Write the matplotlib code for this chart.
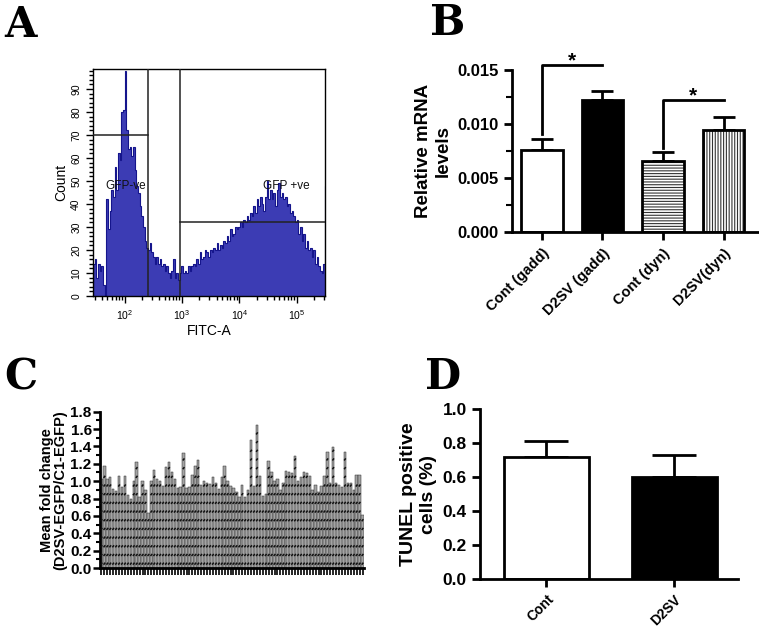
import numpy as np
import matplotlib
matplotlib.use("Agg")
import matplotlib.pyplot as plt
from matplotlib.collections import LineCollection
from matplotlib.ticker import MultipleLocator, FixedLocator, NullFormatter, LogLocator, FormatStrFormatter

plt.rcParams['font.family'] = ['Liberation Sans', 'DejaVu Sans']
plt.rcParams['hatch.linewidth'] = 0.8

# ---------------- Panel A data (flow cytometry histogram) ----------------
fitc_log_min = 1.447
fitc_log_max = 5.523
hist_counts = [14, 16, 8, 14, 11, 13, 5, 0, 42, 29, 37, 46, 43, 56, 46, 62, 59, 80, 81, 98,
               72, 64, 65, 61, 65, 55, 48, 45, 39, 35, 30, 24, 21, 20, 23, 19, 17, 14, 17, 14,
               16, 13, 14, 11, 13, 10, 8, 11, 16, 8, 10, 7, 10, 13, 10, 11, 10, 13, 11, 13,
               14, 13, 16, 14, 19, 16, 17, 20, 19, 17, 20, 19, 21, 20, 23, 20, 22, 21, 24, 23,
               26, 24, 29, 26, 27, 30, 29, 30, 32, 30, 33, 32, 35, 33, 36, 35, 39, 36, 42, 39,
               43, 40, 37, 43, 50, 42, 46, 42, 45, 39, 46, 49, 43, 45, 42, 43, 39, 40, 36, 37,
               35, 32, 33, 27, 30, 24, 27, 21, 24, 20, 21, 17, 20, 14, 17, 13, 11, 10, 14, 48]
gate_neg_x = 257
gate_neg_y = 70
gate_pos_x = 910
gate_pos_y = 32
a_xlim = (10 ** 1.447, 10 ** 5.494)
a_ylim = (0, 98.7)

# ---------------- Panel B data ----------------
b_categories = ['Cont (gadd)', 'D2SV (gadd)', 'Cont (dyn)', 'D2SV(dyn)']
b_values = [0.00759, 0.0122, 0.00658, 0.00944]
b_errors = [0.00099, 0.00086, 0.00080, 0.00123]

# ---------------- Panel C data ----------------
c_values = [1.02, 1.17, 1.02, 1.05, 0.91, 0.89, 1.06, 0.93, 1.06, 0.84, 0.80, 1.00, 1.22, 0.82,
            1.00, 0.90, 0.63, 1.00, 1.13, 1.03, 1.00, 0.95, 1.16, 1.22, 1.11, 1.03, 0.92, 0.93,
            1.32,
            0.92, 0.93, 1.07, 1.17, 1.24, 0.96, 1.00, 0.98, 0.97, 1.05, 0.98, 0.91, 1.05, 1.17,
            1.00, 0.94, 0.92, 0.88, 0.82, 0.96, 0.82, 0.90, 1.47, 0.95, 1.65, 1.06, 0.83, 0.85,
            1.23, 1.11, 1.00, 1.03,
            0.90, 0.98, 1.12, 1.10, 1.09, 1.29, 1.00, 1.05, 1.10, 1.09, 1.06, 0.90, 0.96, 0.88,
            0.95, 1.06, 1.34, 0.98, 1.39, 0.98, 0.96, 0.93, 1.34, 0.98, 0.98, 0.90, 1.07, 1.07,
            0.61]
c_dash_step = 0.1

# ---------------- Panel D data ----------------
d_categories = ['Cont', 'D2SV']
d_values = [0.717, 0.603]
d_errors = [0.096, 0.128]

W, H = 759, 628
fig = plt.figure(figsize=(W / 100, H / 100), dpi=100)


def px_axes(left, top, right, bottom):
    return fig.add_axes([left / W, 1 - bottom / H, (right - left) / W, (bottom - top) / H])


# ================= Panel A =================
axA = px_axes(93, 69, 325, 296)
edges = np.logspace(fitc_log_min, fitc_log_max, len(hist_counts) + 1)
axA.stairs(hist_counts, edges, fill=True, color='#3c3cb4', zorder=1)
axA.stairs(hist_counts, edges, color='#15158c', lw=0.8, zorder=2)
axA.set_xscale('log')
axA.set_xlim(*a_xlim)
axA.set_ylim(*a_ylim)
axA.plot([gate_neg_x, gate_neg_x], [0, a_ylim[1]], color='#222222', lw=1.1, zorder=3)
axA.plot([a_xlim[0], gate_neg_x], [gate_neg_y, gate_neg_y], color='#222222', lw=1.1, zorder=3)
axA.plot([gate_pos_x, gate_pos_x], [0, a_ylim[1]], color='#222222', lw=1.1, zorder=3)
axA.plot([gate_pos_x, a_xlim[1]], [gate_pos_y, gate_pos_y], color='#222222', lw=1.1, zorder=3)
axA.text(46.5, 48, 'GFP-ve', fontsize=8.5, va='center', ha='left', color='#111111', zorder=4)
axA.text(26000, 48, 'GFP +ve', fontsize=8.5, va='center', ha='left', color='#111111', zorder=4)
axA.yaxis.set_major_locator(MultipleLocator(10))
axA.yaxis.set_minor_locator(MultipleLocator(2))
axA.xaxis.set_major_locator(FixedLocator([1e2, 1e3, 1e4, 1e5]))
axA.xaxis.set_minor_locator(LogLocator(base=10, subs=np.arange(2, 10), numticks=20))
axA.xaxis.set_minor_formatter(NullFormatter())
axA.tick_params(axis='both', which='major', direction='out', length=5, width=1, labelsize=7.5)
axA.tick_params(axis='both', which='minor', direction='out', length=3, width=1)
for lab in axA.get_yticklabels():
    lab.set_rotation(90)
    lab.set_va('center')
axA.set_ylabel('Count', fontsize=10, labelpad=2)
axA.set_xlabel('FITC-A', fontsize=10, labelpad=2)
for s in axA.spines.values():
    s.set_linewidth(1)

# ================= Panel B =================
axB = px_axes(511.7, 70, 758, 232.3)
xb = np.arange(len(b_values))
bw = 0.68
axB.bar(xb[0], b_values[0], bw, facecolor='white', edgecolor='black', lw=2, zorder=2)
axB.bar(xb[1], b_values[1], bw, facecolor='black', edgecolor='black', lw=2, zorder=2)
axB.bar(xb[2], b_values[2], bw, facecolor='white', edgecolor='#333333', lw=0, hatch='------', zorder=2)
axB.bar(xb[2], b_values[2], bw, fill=False, edgecolor='black', lw=2, zorder=3)
axB.bar(xb[3], b_values[3], bw, facecolor='white', edgecolor='#333333', lw=0, hatch='||||||', zorder=2)
axB.bar(xb[3], b_values[3], bw, fill=False, edgecolor='black', lw=2, zorder=3)
axB.errorbar(xb, b_values, yerr=[np.zeros(len(b_errors)), b_errors], fmt='none', ecolor='black',
             elinewidth=2, capsize=7.8, capthick=2, zorder=1)
axB.plot([0, 0, 1], [0.0091, 0.0155, 0.0155], color='black', lw=2, clip_on=False)
axB.text(0.5, 0.01585, '*', fontsize=15, fontweight='bold', ha='center', va='center')
axB.plot([2, 2, 3], [0.0078, 0.01227, 0.01227], color='black', lw=2, clip_on=False)
axB.text(2.5, 0.0126, '*', fontsize=15, fontweight='bold', ha='center', va='center')
axB.set_xlim(-0.5, 3.57)
axB.set_ylim(0, 0.015)
axB.yaxis.set_major_locator(MultipleLocator(0.005))
axB.yaxis.set_minor_locator(MultipleLocator(0.0025))
axB.yaxis.set_major_formatter(FormatStrFormatter('%.3f'))
axB.set_xticks(xb)
axB.set_xticklabels(b_categories, rotation=45, ha='right', rotation_mode='anchor',
                    fontsize=10.5, fontweight='bold')
axB.tick_params(axis='both', which='major', direction='out', length=6, width=2, labelsize=12)
axB.tick_params(axis='x', labelsize=10.5, pad=4)
axB.tick_params(axis='y', which='minor', direction='out', length=4, width=1.5)
for lab in axB.get_yticklabels():
    lab.set_fontweight('bold')
axB.set_ylabel('Relative mRNA\nlevels', fontsize=13.5, fontweight='bold', labelpad=4)
axB.spines['top'].set_visible(False)
axB.spines['right'].set_visible(False)
axB.spines['left'].set_linewidth(2)
axB.spines['bottom'].set_linewidth(2)

# ================= Panel C =================
axC = px_axes(100, 411.7, 364, 568)
xc = np.arange(len(c_values))
axC.bar(xc, c_values, 0.82, facecolor='#a3a3a3', edgecolor='#2a2a2a', lw=0.35, zorder=2)
segs = []
for i, v in enumerate(c_values):
    for y in np.arange(c_dash_step / 2, v - 0.02, c_dash_step):
        segs.append([(i - 0.28, y - 0.012), (i + 0.28, y + 0.012)])
axC.add_collection(LineCollection(segs, colors='#111111', linewidths=1.1, zorder=3))
axC.set_xlim(-0.5, len(c_values) - 0.5)
axC.set_ylim(0, 1.8)
axC.yaxis.set_major_locator(MultipleLocator(0.2))
axC.yaxis.set_minor_locator(MultipleLocator(0.1))
axC.yaxis.set_major_formatter(FormatStrFormatter('%.1f'))
axC.set_xticks(xc)
axC.set_xticklabels([])
axC.tick_params(axis='x', which='major', direction='out', length=5, width=1.2)
axC.tick_params(axis='y', which='major', direction='out', length=5, width=1.8, labelsize=11, pad=1)
axC.tick_params(axis='y', which='minor', direction='out', length=3, width=1.5)
for lab in axC.get_yticklabels():
    lab.set_fontweight('bold')
axC.set_ylabel('Mean fold change\n(D2SV-EGFP/C1-EGFP)', fontsize=10.5, fontweight='bold',
               labelpad=2, linespacing=1.0)
axC.spines['top'].set_visible(False)
axC.spines['right'].set_visible(False)
axC.spines['left'].set_linewidth(2)
axC.spines['bottom'].set_linewidth(2)

# ================= Panel D =================
axD = px_axes(480, 409.3, 738, 579)
xd = np.arange(len(d_values))
axD.bar(xd[0], d_values[0], 0.667, facecolor='white', edgecolor='black', lw=2, zorder=2)
axD.bar(xd[1], d_values[1], 0.667, facecolor='black', edgecolor='black', lw=2, zorder=2)
axD.errorbar(xd, d_values, yerr=[np.zeros(len(d_errors)), d_errors], fmt='none', ecolor='black',
             elinewidth=2, capsize=15.6, capthick=2, zorder=1)
axD.set_xlim(-0.52, 1.5)
axD.set_ylim(0, 1.0)
axD.yaxis.set_major_locator(MultipleLocator(0.2))
axD.yaxis.set_major_formatter(FormatStrFormatter('%.1f'))
axD.set_xticks(xd)
axD.set_xticklabels(d_categories, rotation=45, ha='right', rotation_mode='anchor',
                    fontsize=10, fontweight='bold')
axD.tick_params(axis='both', which='major', direction='out', length=6, width=2)
axD.tick_params(axis='y', labelsize=12.5)
for lab in axD.get_yticklabels():
    lab.set_fontweight('bold')
axD.set_ylabel('TUNEL positive\ncells (%)', fontsize=14, fontweight='bold', labelpad=4)
axD.spines['top'].set_visible(False)
axD.spines['right'].set_visible(False)
axD.spines['left'].set_linewidth(2)
axD.spines['bottom'].set_linewidth(2)

# ================= Panel letters =================
for letter, lx, ly in [('A', 4, 4), ('B', 430, 2), ('C', 4, 356), ('D', 425, 356)]:
    fig.text(lx / W, 1 - ly / H, letter, fontsize=30, fontweight='bold', family='DejaVu Serif',
             ha='left', va='top')

fig.savefig('out.png', dpi=100)
